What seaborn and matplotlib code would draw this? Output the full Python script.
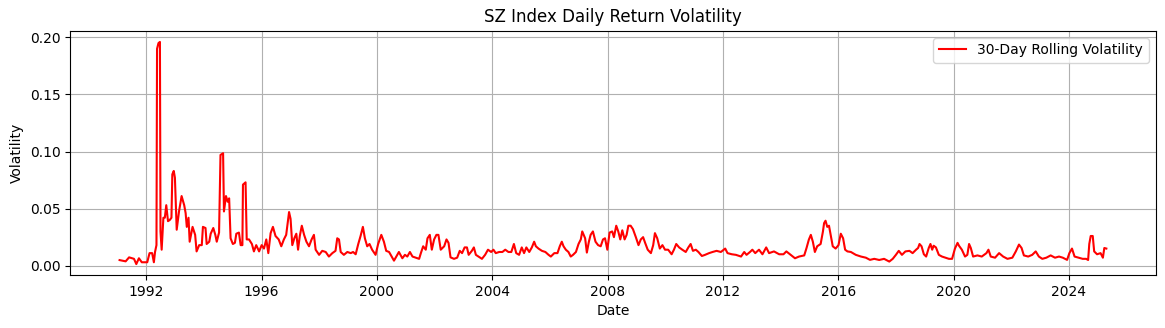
import numpy as np
import pandas as pd
import matplotlib
matplotlib.use("Agg")
import matplotlib.pyplot as plt
import seaborn as sns

# Decimal-year positions and 30-day rolling volatility values
years = [
    1991.07, 1991.28, 1991.40, 1991.57, 1991.65, 1991.74, 1991.84, 1992.03, 1992.11, 1992.20,
    1992.26, 1992.30, 1992.35, 1992.37, 1992.42, 1992.47, 1992.49, 1992.53, 1992.59, 1992.64,
    1992.69, 1992.75, 1992.81, 1992.87, 1992.90, 1992.95, 1992.99, 1993.05, 1993.13, 1993.22,
    1993.31, 1993.36, 1993.40, 1993.46, 1993.50, 1993.60, 1993.69, 1993.74, 1993.83, 1993.92,
    1993.96, 1994.05, 1994.09, 1994.18, 1994.23, 1994.32, 1994.39, 1994.44, 1994.52, 1994.57,
    1994.66, 1994.69, 1994.76, 1994.82, 1994.87, 1994.92, 1995.00, 1995.07, 1995.12, 1995.21,
    1995.27, 1995.33, 1995.35, 1995.44, 1995.48, 1995.56, 1995.66, 1995.73, 1995.81, 1995.91,
    1996.00, 1996.08, 1996.16, 1996.23, 1996.31, 1996.39, 1996.48, 1996.59, 1996.68, 1996.77,
    1996.85, 1996.95, 1997.00, 1997.06, 1997.13, 1997.20, 1997.26, 1997.32, 1997.39, 1997.47,
    1997.55, 1997.64, 1997.73, 1997.81, 1997.87, 1997.99, 1998.10, 1998.22, 1998.33, 1998.45,
    1998.56, 1998.62, 1998.68, 1998.74, 1998.85, 1998.97, 1999.09, 1999.17, 1999.26, 1999.35,
    1999.43, 1999.51, 1999.58, 1999.66, 1999.74, 1999.83, 1999.95, 2000.04, 2000.15, 2000.24,
    2000.32, 2000.42, 2000.51, 2000.59, 2000.67, 2000.76, 2000.88, 2000.97, 2001.05, 2001.14,
    2001.23, 2001.34, 2001.46, 2001.52, 2001.60, 2001.69, 2001.75, 2001.83, 2001.90, 2001.98,
    2002.06, 2002.13, 2002.21, 2002.33, 2002.41, 2002.48, 2002.55, 2002.67, 2002.78, 2002.87,
    2002.95, 2003.04, 2003.12, 2003.18, 2003.29, 2003.36, 2003.43, 2003.52, 2003.64, 2003.75,
    2003.85, 2003.96, 2004.04, 2004.12, 2004.24, 2004.35, 2004.45, 2004.56, 2004.66, 2004.75,
    2004.83, 2004.93, 2005.02, 2005.10, 2005.18, 2005.28, 2005.37, 2005.45, 2005.51, 2005.60,
    2005.72, 2005.84, 2005.95, 2006.03, 2006.15, 2006.26, 2006.34, 2006.41, 2006.47, 2006.55,
    2006.64, 2006.72, 2006.80, 2006.90, 2006.99, 2007.07, 2007.12, 2007.22, 2007.28, 2007.35,
    2007.41, 2007.49, 2007.58, 2007.67, 2007.76, 2007.84, 2007.91, 2007.99, 2008.07, 2008.16,
    2008.22, 2008.30, 2008.37, 2008.44, 2008.51, 2008.59, 2008.66, 2008.72, 2008.80, 2008.88,
    2008.98, 2009.07, 2009.15, 2009.23, 2009.30, 2009.39, 2009.50, 2009.58, 2009.64, 2009.72,
    2009.81, 2009.90, 2009.99, 2010.10, 2010.22, 2010.30, 2010.38, 2010.48, 2010.59, 2010.71,
    2010.80, 2010.88, 2010.96, 2011.06, 2011.15, 2011.27, 2011.38, 2011.52, 2011.64, 2011.78,
    2011.93, 2012.08, 2012.16, 2012.31, 2012.45, 2012.63, 2012.74, 2012.82, 2012.94, 2013.02,
    2013.12, 2013.25, 2013.37, 2013.50, 2013.60, 2013.77, 2013.95, 2014.10, 2014.20, 2014.35,
    2014.50, 2014.64, 2014.82, 2014.90, 2014.98, 2015.05, 2015.12, 2015.19, 2015.27, 2015.39,
    2015.47, 2015.51, 2015.56, 2015.62, 2015.68, 2015.73, 2015.81, 2015.91, 2016.01, 2016.09,
    2016.17, 2016.24, 2016.32, 2016.44, 2016.61, 2016.79, 2016.96, 2017.10, 2017.25, 2017.42,
    2017.59, 2017.77, 2017.89, 2018.00, 2018.10, 2018.21, 2018.33, 2018.47, 2018.58, 2018.70,
    2018.77, 2018.82, 2018.89, 2018.97, 2019.05, 2019.14, 2019.20, 2019.26, 2019.31, 2019.39,
    2019.49, 2019.60, 2019.72, 2019.84, 2019.95, 2020.05, 2020.14, 2020.19, 2020.29, 2020.40,
    2020.48, 2020.54, 2020.60, 2020.68, 2020.83, 2020.98, 2021.14, 2021.21, 2021.29, 2021.44,
    2021.58, 2021.72, 2021.87, 2022.04, 2022.16, 2022.27, 2022.36, 2022.44, 2022.59, 2022.73,
    2022.85, 2022.96, 2023.08, 2023.22, 2023.37, 2023.52, 2023.66, 2023.79, 2023.94, 2024.02,
    2024.11, 2024.20, 2024.34, 2024.48, 2024.60, 2024.67, 2024.71, 2024.76, 2024.83, 2024.88,
    2024.98, 2025.10, 2025.18, 2025.23, 2025.30,
]

volatility = [
    0.0049, 0.0038, 0.0073, 0.0060, 0.0014, 0.0065, 0.0030, 0.0030, 0.0110, 0.0110,
    0.0030, 0.0120, 0.0180, 0.1900, 0.1950, 0.1960, 0.0300, 0.0140, 0.0420, 0.0420,
    0.0530, 0.0390, 0.0400, 0.0420, 0.0800, 0.0830, 0.0770, 0.0315, 0.0475, 0.0610,
    0.0530, 0.0460, 0.0340, 0.0420, 0.0210, 0.0340, 0.0270, 0.0125, 0.0180, 0.0180,
    0.0340, 0.0330, 0.0190, 0.0210, 0.0280, 0.0330, 0.0270, 0.0210, 0.0290, 0.0970,
    0.0985, 0.0475, 0.0610, 0.0560, 0.0590, 0.0240, 0.0190, 0.0200, 0.0280, 0.0290,
    0.0180, 0.0180, 0.0710, 0.0730, 0.0230, 0.0230, 0.0190, 0.0125, 0.0180, 0.0125,
    0.0180, 0.0150, 0.0230, 0.0110, 0.0285, 0.0340, 0.0260, 0.0230, 0.0170, 0.0230,
    0.0270, 0.0470, 0.0410, 0.0180, 0.0240, 0.0280, 0.0140, 0.0260, 0.0350, 0.0270,
    0.0210, 0.0170, 0.0230, 0.0270, 0.0140, 0.0095, 0.0130, 0.0120, 0.0080, 0.0110,
    0.0130, 0.0240, 0.0230, 0.0120, 0.0095, 0.0120, 0.0110, 0.0120, 0.0100, 0.0190,
    0.0260, 0.0340, 0.0240, 0.0170, 0.0190, 0.0140, 0.0095, 0.0190, 0.0270, 0.0210,
    0.0130, 0.0120, 0.0080, 0.0044, 0.0080, 0.0120, 0.0065, 0.0095, 0.0080, 0.0120,
    0.0080, 0.0070, 0.0060, 0.0110, 0.0170, 0.0140, 0.0240, 0.0270, 0.0140, 0.0230,
    0.0270, 0.0270, 0.0140, 0.0170, 0.0230, 0.0200, 0.0073, 0.0060, 0.0070, 0.0130,
    0.0110, 0.0160, 0.0160, 0.0095, 0.0130, 0.0160, 0.0095, 0.0080, 0.0060, 0.0095,
    0.0140, 0.0120, 0.0140, 0.0110, 0.0120, 0.0120, 0.0140, 0.0120, 0.0120, 0.0190,
    0.0110, 0.0095, 0.0160, 0.0110, 0.0160, 0.0120, 0.0160, 0.0210, 0.0170, 0.0150,
    0.0130, 0.0120, 0.0095, 0.0080, 0.0110, 0.0110, 0.0170, 0.0210, 0.0170, 0.0140,
    0.0120, 0.0080, 0.0095, 0.0120, 0.0190, 0.0230, 0.0300, 0.0240, 0.0115, 0.0210,
    0.0270, 0.0300, 0.0210, 0.0180, 0.0170, 0.0230, 0.0240, 0.0140, 0.0290, 0.0300,
    0.0250, 0.0350, 0.0300, 0.0230, 0.0310, 0.0230, 0.0270, 0.0350, 0.0350, 0.0320,
    0.0250, 0.0180, 0.0230, 0.0250, 0.0200, 0.0140, 0.0110, 0.0180, 0.0285, 0.0240,
    0.0150, 0.0180, 0.0140, 0.0140, 0.0100, 0.0140, 0.0190, 0.0160, 0.0140, 0.0120,
    0.0160, 0.0190, 0.0130, 0.0140, 0.0120, 0.0085, 0.0095, 0.0110, 0.0120, 0.0130,
    0.0120, 0.0150, 0.0110, 0.0100, 0.0095, 0.0080, 0.0120, 0.0095, 0.0120, 0.0140,
    0.0110, 0.0140, 0.0100, 0.0160, 0.0110, 0.0125, 0.0100, 0.0100, 0.0125, 0.0095,
    0.0065, 0.0080, 0.0090, 0.0155, 0.0228, 0.0270, 0.0210, 0.0120, 0.0170, 0.0190,
    0.0300, 0.0373, 0.0394, 0.0340, 0.0350, 0.0280, 0.0170, 0.0150, 0.0180, 0.0280,
    0.0240, 0.0140, 0.0125, 0.0120, 0.0095, 0.0080, 0.0070, 0.0051, 0.0060, 0.0050,
    0.0060, 0.0036, 0.0060, 0.0095, 0.0130, 0.0095, 0.0125, 0.0130, 0.0110, 0.0140,
    0.0155, 0.0190, 0.0170, 0.0100, 0.0080, 0.0155, 0.0190, 0.0140, 0.0175, 0.0160,
    0.0095, 0.0080, 0.0070, 0.0060, 0.0060, 0.0150, 0.0200, 0.0175, 0.0140, 0.0080,
    0.0095, 0.0190, 0.0155, 0.0080, 0.0090, 0.0080, 0.0110, 0.0140, 0.0080, 0.0070,
    0.0110, 0.0080, 0.0060, 0.0070, 0.0125, 0.0185, 0.0155, 0.0090, 0.0080, 0.0095,
    0.0125, 0.0080, 0.0060, 0.0070, 0.0090, 0.0070, 0.0080, 0.0070, 0.0051, 0.0110,
    0.0150, 0.0080, 0.0070, 0.0060, 0.0060, 0.0050, 0.0190, 0.0260, 0.0260, 0.0125,
    0.0100, 0.0110, 0.0070, 0.0155, 0.0150,
]

series_label = "30-Day Rolling Volatility"
title = "SZ Index Daily Return Volatility"
x_label = "Date"
y_label = "Volatility"

# Convert decimal years to timestamps
yr = np.array(years)
whole = np.floor(yr).astype(int)
dates = pd.to_datetime([f"{y}-01-01" for y in whole]) + pd.to_timedelta((yr - whole) * 365.25, unit="D")
df = pd.DataFrame({"Date": dates, "Volatility": volatility})

fig = plt.figure(figsize=(11.65, 3.28), dpi=100)
ax = fig.add_axes([0.0603, 0.161, 0.9317, 0.745])
sns.lineplot(data=df, x="Date", y="Volatility", ax=ax, color="red",
             linewidth=1.5, estimator=None, label=series_label)
ax.set_title(title)
ax.set_xlabel(x_label)
ax.set_ylabel(y_label)
ax.grid(True)
ax.legend(loc="upper right")
fig.savefig("out.png", dpi=100)
